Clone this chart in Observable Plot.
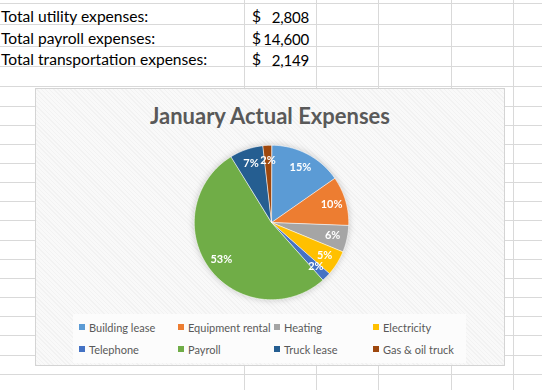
<!DOCTYPE html>
<html>
<head>
<meta charset="utf-8">
<script src="https://cdn.jsdelivr.net/npm/d3@7"></script>
<script src="https://cdn.jsdelivr.net/npm/@observablehq/plot@0.6"></script>
<style>
  html, body { margin: 0; padding: 0; background: #fff; }
  body { width: 542px; height: 390px; position: relative; overflow: hidden; font-family: Lato, "Open Sans", sans-serif; }
  .hl { position: absolute; left: 0; width: 542px; height: 1px; background: #d9d9d9; }
  .vl { position: absolute; top: 0; width: 1px; height: 390px; background: #d9d9d9; }
  .cell { position: absolute; font-size: 15.6px; color: #000; white-space: nowrap; line-height: 1; }
  .num { font-size: 15px; letter-spacing: -0.2px; }
  #chartbox { position: absolute; left: 35px; top: 88px; width: 468px; height: 276px;
    border: 1px solid #d4d4d4;
    background: repeating-linear-gradient(45deg, #f2f2f2 0 1px, #f9f9f9 1px 3px); }
  #title { position: absolute; left: 0; width: 100%; top: 13px; text-align: center;
    font-weight: bold; font-size: 22px; color: #595959; }
  #pie { position: absolute; left: 150px; top: 48px; filter: drop-shadow(0 0 3px rgba(0,0,0,0.2)); }
  #legend { position: absolute; left: 37px; top: 225px; width: 393px; height: 49px; background: #fcfcfc;
    display: grid; grid-template-columns: 99px 96px 99px 99px; grid-auto-rows: 22px; padding-top: 2px; box-sizing: border-box; padding-left: 6px; }
  .item { display: flex; align-items: center; font-size: 11px; color: #595959; white-space: nowrap; }
  .sw { width: 6px; height: 6px; margin-right: 4px; flex: none; }
</style>
</head>
<body>
<div id="grid"></div>
<div id="cells"></div>
<div id="chartbox">
  <div id="title"></div>
  <div id="pie"></div>
  <div id="legend"></div>
</div>
<script>
// ---- data ----
const tableLabels = ["Total utility expenses:", "Total payroll expenses:", "Total transportation expenses:"];
const tableValues = ["$  2,808", "$ 14,600", "$  2,149"];

const chartTitle = "January Actual Expenses";
const categories = ["Building lease", "Equipment rental", "Heating", "Electricity", "Telephone", "Payroll", "Truck lease", "Gas & oil truck"];
const shares = [15.3, 10.3, 5.6, 5.3, 1.9, 52.8, 7.0, 1.8];
const colors = ["#5B9BD5", "#ED7D31", "#A5A5A5", "#FFC000", "#4472C4", "#70AD47", "#255E91", "#9E480E"];

// ---- spreadsheet background (layout only) ----
const rowLines = [3, 24, 46, 66, 86, 106, 125, 144, 163, 182, 201, 220, 240, 259, 278, 297, 316, 335, 355, 374];
const colLines = [244, 316, 378, 451, 513];
const grid = document.getElementById("grid");
rowLines.forEach(y => { const d = document.createElement("div"); d.className = "hl"; d.style.top = y + "px"; grid.appendChild(d); });
colLines.forEach(x => { const d = document.createElement("div"); d.className = "vl"; d.style.left = x + "px"; grid.appendChild(d); });

const cells = document.getElementById("cells");
const baselines = [9, 31, 52];
tableLabels.forEach((t, i) => {
  const a = document.createElement("div"); a.className = "cell"; a.style.left = "1px"; a.style.top = baselines[i] + "px"; a.textContent = t; cells.appendChild(a);
  const v = tableValues[i];
  const s = document.createElement("div"); s.className = "cell"; s.style.left = "252px"; s.style.top = baselines[i] + "px"; s.textContent = "$"; cells.appendChild(s);
  const n = document.createElement("div"); n.className = "cell num"; n.style.left = "250px"; n.style.width = "59px"; n.style.textAlign = "right"; n.style.top = (baselines[i] + 1) + "px";
  n.textContent = v.replace("$", "").trim(); cells.appendChild(n);
});

document.getElementById("title").textContent = chartTitle;

// ---- pie via d3.pie + Plot scales ----
const data = categories.map((c, i) => ({name: c, value: shares[i]}));
const arcs = d3.pie().sort(null).value(d => d.value)(data);
const total = d3.sum(shares);
const poly = [];
arcs.forEach(a => {
  poly.push({name: a.data.name, x: 0, y: 0});
  const n = Math.max(2, Math.ceil((a.endAngle - a.startAngle) / 0.02));
  for (let k = 0; k <= n; k++) {
    const t = a.startAngle + (a.endAngle - a.startAngle) * k / n;
    poly.push({name: a.data.name, x: Math.sin(t), y: Math.cos(t)});
  }
});
const labels = arcs.map(a => {
  const m = (a.startAngle + a.endAngle) / 2;
  return {name: a.data.name, x: 0.81 * Math.sin(m), y: 0.81 * Math.cos(m), text: Math.round(a.data.value / total * 100) + "%"};
});

const pie = Plot.plot({
  width: 170, height: 170, margin: 0,
  x: {domain: [-1.1, 1.1], axis: null},
  y: {domain: [-1.1, 1.1], axis: null},
  color: {domain: categories, range: colors},
  style: {background: "transparent", overflow: "visible"},
  marks: [
    Plot.line(poly, {x: "x", y: "y", z: "name", fill: "name", stroke: "white", strokeWidth: 0.6, curve: "linear-closed"}),
    Plot.text(labels, {x: "x", y: "y", text: "text", fill: "white", fontWeight: "bold", fontSize: 11, fontFamily: "Lato"})
  ]
});
document.getElementById("pie").appendChild(pie);

// ---- legend ----
const legend = document.getElementById("legend");
categories.forEach((c, i) => {
  const it = document.createElement("div"); it.className = "item";
  const sw = document.createElement("span"); sw.className = "sw"; sw.style.background = colors[i];
  const tx = document.createElement("span"); tx.textContent = c;
  it.appendChild(sw); it.appendChild(tx); legend.appendChild(it);
});
</script>
</body>
</html>
